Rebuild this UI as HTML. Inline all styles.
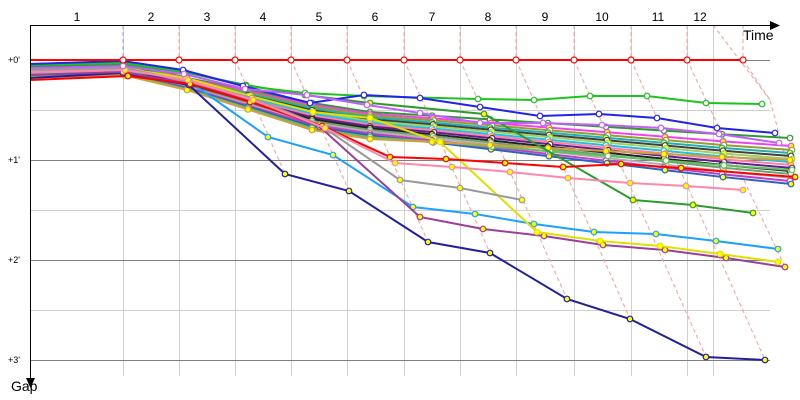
<!DOCTYPE html>
<html><head><meta charset="utf-8"><style>
html,body{margin:0;padding:0;background:#fff;width:800px;height:400px;overflow:hidden}
svg{display:block;font-family:"Liberation Sans",sans-serif}
</style></head><body>
<svg id="s" width="800" height="400" viewBox="0 0 800 400" xmlns="http://www.w3.org/2000/svg">
<g stroke="#d0d0d0" stroke-width="1">
<line x1="30" y1="110.5" x2="770" y2="110.5"/><line x1="30" y1="210.5" x2="770" y2="210.5"/><line x1="30" y1="310.5" x2="770" y2="310.5"/>
<line x1="123.5" y1="25" x2="123.5" y2="376"/><line x1="179.5" y1="25" x2="179.5" y2="376"/><line x1="235.5" y1="25" x2="235.5" y2="376"/><line x1="291.5" y1="25" x2="291.5" y2="376"/><line x1="347.5" y1="25" x2="347.5" y2="376"/><line x1="404.5" y1="25" x2="404.5" y2="376"/><line x1="460.5" y1="25" x2="460.5" y2="376"/><line x1="516.5" y1="25" x2="516.5" y2="376"/><line x1="574.5" y1="25" x2="574.5" y2="376"/><line x1="631.5" y1="25" x2="631.5" y2="376"/><line x1="687.5" y1="25" x2="687.5" y2="376"/><line x1="713.5" y1="25" x2="713.5" y2="376"/>
</g>
<g stroke="#808080" stroke-width="1">
<line x1="30" y1="60.5" x2="770" y2="60.5"/><line x1="30" y1="160.5" x2="770" y2="160.5"/><line x1="30" y1="260.5" x2="770" y2="260.5"/><line x1="30" y1="360.5" x2="770" y2="360.5"/>
</g>
<g id="dash" stroke="#ff9a9a" stroke-width="1" stroke-dasharray="4,3" fill="none"></g>
<g id="ser" fill="none" stroke-width="2"></g>
<g stroke="#000" stroke-width="1">
<line x1="30.5" y1="25" x2="30.5" y2="380"/><line x1="30" y1="25.5" x2="772" y2="25.5"/>
</g>
<polygon points="780,25.5 770,21 770,30" fill="#000"/>
<polygon points="30.5,388 26,378 35,378" fill="#000"/>
<g font-size="12" fill="#000" text-anchor="middle">
<text x="77" y="21">1</text><text x="151" y="21">2</text><text x="207" y="21">3</text><text x="263" y="21">4</text><text x="319" y="21">5</text><text x="375" y="21">6</text><text x="432" y="21">7</text><text x="488" y="21">8</text><text x="545" y="21">9</text><text x="602" y="21">10</text><text x="658" y="21">11</text><text x="700" y="21">12</text>
</g>
<text x="743" y="40" font-size="14">Time</text>
<text x="11" y="391" font-size="14">Gap</text>
<g font-size="9" fill="#000"><text x="8" y="63">+0'</text><text x="8" y="163">+1'</text><text x="8" y="263">+2'</text><text x="8" y="363">+3'</text></g>
</svg>
<script>
var NS="http://www.w3.org/2000/svg";
var dash=document.getElementById('dash'),ser=document.getElementById('ser');
function el(p,t,a){var e=document.createElementNS(NS,t);for(var k in a)e.setAttribute(k,a[k]);p.appendChild(e);return e;}
var gx=[123,179,235,291,347,404,460,516,574,631,687,743];
var navy=[[123,73],[189,85],[285,174],[349,191],[428,242],[490,253],[567,299],[630,319],[706,357],[765,360]];
el(dash,'line',{x1:123,y1:25,x2:123,y2:60,stroke:'#9a9aff'});
for(var i=1;i<12;i++){el(dash,'line',{x1:gx[i],y1:25,x2:gx[i],y2:60});}
el(dash,'line',{x1:179,y1:60,x2:189,y2:85});
for(var i=2;i<10;i++){var n=navy[i];el(dash,'line',{x1:gx[i],y1:60,x2:n[0],y2:n[1]});}
el(dash,'line',{x1:687,y1:60,x2:785,y2:267});
el(dash,'polyline',{points:"743,60 770,100 790,175"});
el(dash,'polyline',{points:"713,25 770,100"});
function line(c,pts,mf){
  el(ser,'polyline',{points:pts.map(function(p){return p.join(',')}).join(' '),stroke:c});
  pts.forEach(function(p,j){if(j>0&&p[0]>40)el(ser,'circle',{cx:p[0],cy:p[1],r:2.8,fill:mf,stroke:c,'stroke-width':1.2});});
}
var bcols=['#2e9b2e','#ee44ee','#9b9b2e','#20b0b0','#404040','#a0d060','#20c0e0','#ff80a0','#602090','#222222','#70a070','#b0b0b0','#c040c0','#3060c0','#60c060','#d0a040'];
var ends=[138,146,150,153,156,159,162,165,168,171,174,178,181,184,170,160];
bcols.forEach(function(c,k){
  var y0=64+k*0.9, e=ends[k];
  var pts=[[30,y0],[125,y0-2],[187,78+k*0.8],[248,90+k*1.3],[312,103+k*1.8],[370,112+k*1.8]];
  var sx=[370,432,490,548,606,664,722,790];
  var sy=112+k*1.8;
  for(var j=1;j<sx.length;j++){pts.push([sx[j]+(k%3), sy+(e-sy)*j/7]);}
  line(c,pts,k%2?'#ffff00':'#fff');
});
line('#20209f',[[30,78]].concat(navy),'#ffff00');
line('#1ea0ff',[[30,72],[123,70],[187,80],[268,137],[333,155],[413,207],[475,214],[534,224],[594,232],[656,234],[716,241],[778,249]],'#ffff00');
line('#9b3d9b',[[30,75],[123,72],[190,84],[250,100],[320,127],[420,217],[483,229],[544,236],[603,245],[665,250],[726,258],[785,267]],'#ffff00');
line('#e0e000',[[30,70],[123,68],[186,78],[250,96],[313,112],[370,118],[440,142],[537,232],[600,241],[660,246],[720,254],[778,262]],'#ffff00');
line('#2e9b2e',[[30,66],[123,64],[183,72],[246,85],[305,95],[370,103],[484,114],[633,200],[693,205],[753,213]],'#ffff00');
line('#999999',[[30,70],[125,68],[190,82],[252,98],[320,125],[400,180],[460,188],[522,200]],'#ffff00');
line('#ff0000',[[30,80],[128,76],[190,84],[250,102],[322,126],[390,157],[446,159],[505,163],[563,167],[621,164],[681,168],[795,177]],'#ffff00');
line('#ff88a8',[[30,72],[125,70],[188,80],[253,100],[325,128],[395,163],[452,167],[510,172],[568,178],[630,183],[686,186],[743,190]],'#ffff00');
line('#1dc41d',[[30,65],[123,63],[185,72],[246,86],[305,93],[364,96],[478,99],[534,100],[590,96],[647,96],[706,103],[762,104]],'#fff');
line('#2222ee',[[30,64],[123,61],[183,70],[243,86],[310,103],[364,95],[420,98],[480,107],[540,116],[599,114],[657,118],[717,128],[775,133]],'#fff');
line('#c55cff',[[30,68],[123,66],[184,74],[245,89],[307,95],[367,105],[420,113],[480,123],[543,123],[602,125],[661,128],[719,134],[779,143]],'#fff');
line('#ff0000',[[30,60],[743,60]],'#fff');
gx.forEach(function(x){el(ser,'circle',{cx:x,cy:60,r:3,fill:'#fff',stroke:'#ff0000','stroke-width':1.2});});
</script>
</body></html>
